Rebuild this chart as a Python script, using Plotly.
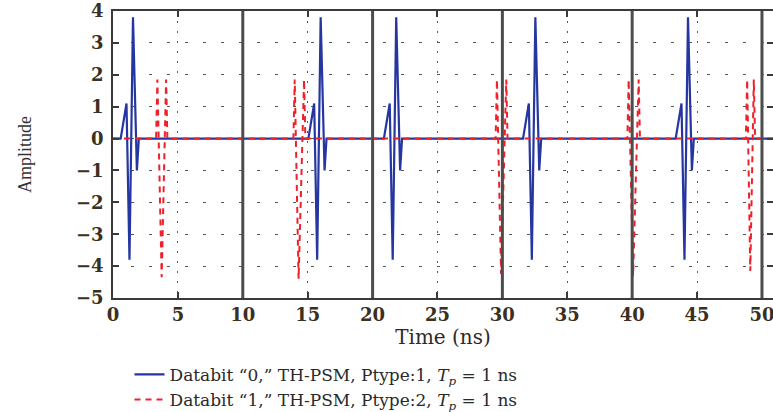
import plotly.graph_objects as go

# ---- data ----
frame_edges = [10, 20, 30, 40, 50]            # thick frame boundaries (ns)

# Databit "0" (Ptype 1) pulses: time of the positive main peak in each frame
blue_peak_times = [1.54, 16.0, 21.82, 32.54, 44.3]
blue_shape_dt = [-0.95, -0.5, -0.27, 0.0, 0.3, 0.45]   # offsets from main peak (ns)
blue_shape_amp = [0.0, 1.1, -3.8, 3.8, -1.0, 0.0]

# Databit "1" (Ptype 2) pulses: first top, trough, second top times and trough depth
red_rise = [3.42, 14.0, 29.58, 39.73, 48.86]
red_trough = [3.75, 14.3, 29.9, 40.07, 49.1]
red_fall = [4.09, 14.72, 30.3, 40.5, 49.37]
red_top = 1.85
red_min = [-4.35, -4.4, -4.25, -4.3, -4.15]

t_start, t_end = 0.0, 50.85

# ---- build series ----
bx, by = [t_start], [0.0]
for tp in blue_peak_times:
    for dt, a in zip(blue_shape_dt, blue_shape_amp):
        bx.append(tp + dt)
        by.append(a)
bx.append(t_end); by.append(0.0)

rx, ry = [t_start], [0.0]
for r1, tr, r2, mn in zip(red_rise, red_trough, red_fall, red_min):
    rx += [r1 - 0.1, r1, tr, r2, r2 + 0.1]
    ry += [0.0, red_top, mn, red_top, 0.0]
rx.append(t_end); ry.append(0.0)

serif = "DejaVu Serif"

fig = go.Figure()
fig.add_trace(go.Scatter(
    x=bx, y=by, mode="lines",
    line=dict(color="#2536a0", width=2.2),
    name="Databit “0,” TH-PSM, Ptype:1, <i>T</i><sub><i>p</i></sub> = 1 ns",
))
fig.add_trace(go.Scatter(
    x=rx, y=ry, mode="lines",
    line=dict(color="#f0202a", width=2, dash="6px,5px"),
    name="Databit “1,” TH-PSM, Ptype:2, <i>T</i><sub><i>p</i></sub> = 1 ns",
))

for xe in frame_edges:
    fig.add_shape(type="line", xref="x", yref="paper", x0=xe, x1=xe, y0=0, y1=1,
                  line=dict(color="#4d4d4d", width=3), layer="above")

axis_common = dict(
    showline=True, linecolor="#3a3a3a", linewidth=1.5, mirror="ticks",
    ticks="inside", ticklen=6, tickcolor="#3a3a3a", tickwidth=1.5,
    zeroline=False, showgrid=True, gridcolor="#555555", gridwidth=1,
    tickfont=dict(family=serif, size=18, color="#3a3022", weight="bold"),
    automargin=False, ticklabeloverflow="allow",
)

fig.update_xaxes(
    range=[t_start, t_end], tick0=0, dtick=5, griddash="2px,8px", tickangle=0,
    title=dict(text="Time (ns)", font=dict(family=serif, size=20, color="#2e2a26"), standoff=6),
    **axis_common,
)
fig.update_yaxes(
    range=[-5, 4], tick0=-5, dtick=1, griddash="3px,15px", ticklabelstandoff=4,
    title=dict(text="Amplitude", font=dict(family="Liberation Serif", size=18, color="#333333"), standoff=40),
    **axis_common,
)

fig.update_layout(
    width=773, height=412,
    margin=dict(l=113, r=0, t=11, b=114, autoexpand=False),
    plot_bgcolor="white", paper_bgcolor="white",
    showlegend=True,
    legend=dict(
        x=0.025, y=-0.205,
        xanchor="left", yanchor="top",
        font=dict(family="DejaVu Serif, serif", size=17, color="#2a2a2a"),
        bgcolor="rgba(0,0,0,0)", tracegroupgap=0,
    ),
)

fig.write_html("out.html")
